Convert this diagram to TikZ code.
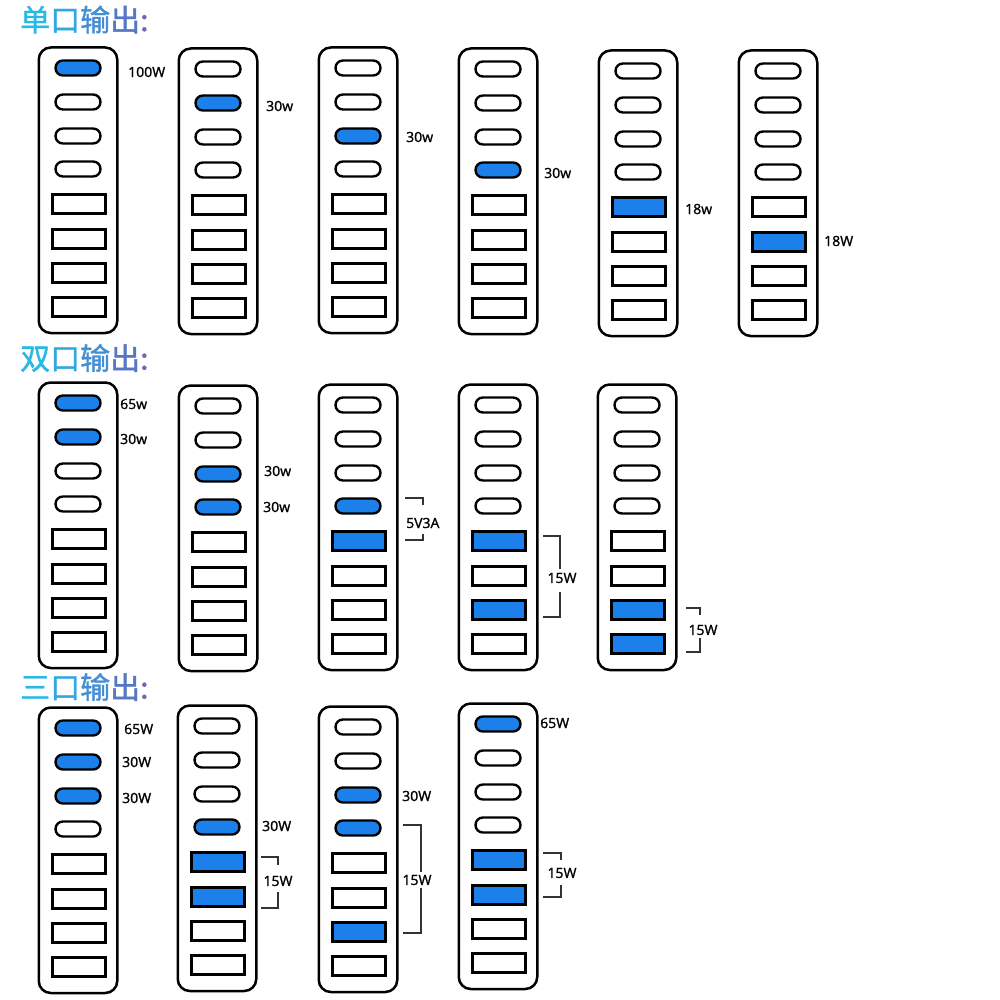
\documentclass[tikz,border=0pt]{standalone}
\usepackage{fontspec}
\newfontfamily\cjk{Noto Sans CJK SC}[FakeBold=1.2]
\newfontfamily\labfont{Open Sans}[FakeBold=1.4]
\definecolor{portblue}{RGB}{28,128,235}
\definecolor{tc1}{RGB}{40,185,230}
\definecolor{tc2}{RGB}{48,168,225}
\definecolor{tc3}{RGB}{68,142,212}
\definecolor{tc4}{RGB}{86,120,196}
\definecolor{tc5}{RGB}{110,104,180}
\tikzset{
  hub/.style={draw, line width=2.5pt, rounded corners=12pt, minimum width=78.5pt, minimum height=285.5pt, inner sep=0pt, anchor=north, fill=white},
  usbc/.style={draw, line width=2.4pt, rounded corners=7.4pt, minimum width=45pt, minimum height=15pt, inner sep=0pt, fill=white},
  usba/.style={draw, line width=3pt, minimum width=53pt, minimum height=19pt, inner sep=0pt, fill=white},
  act/.style={p#1/.style={fill=portblue}},
  lab/.style={font=\labfont\fontsize{14}{14}\selectfont, inner sep=0pt},
  ttl/.style={font=\cjk\fontsize{30}{30}\selectfont, inner sep=0pt, anchor=base west},
  brk/.style={line width=2pt, draw=black!80}
}
\newcommand{\hubstrip}[4]{%
  \begin{scope}[p1/.style={},p2/.style={},p3/.style={},p4/.style={},p5/.style={},p6/.style={},p7/.style={},p8/.style={},act/.list={#4}]
    \node[hub] (#1) at (#2,#3+1.25) {};
    \node[usbc,p1] (#1-1) at (#2,#3+23) {};
    \node[usbc,p2] (#1-2) at (#2,#3+57) {};
    \node[usbc,p3] (#1-3) at (#2,#3+91) {};
    \node[usbc,p4] (#1-4) at (#2,#3+124) {};
    \node[usba,p5] (#1-5) at (#2+0.5,#3+159) {};
    \node[usba,p6] (#1-6) at (#2+0.5,#3+194) {};
    \node[usba,p7] (#1-7) at (#2+0.5,#3+228) {};
    \node[usba,p8] (#1-8) at (#2+0.5,#3+262) {};
  \end{scope}}
\newcommand{\brk}[6]{%
  \draw[brk] (#1,#3) -- (#2,#3) -- (#2,#4);
  \draw[brk] (#2,#5) -- (#2,#6) -- (#1,#6);}
\begin{document}
\begin{tikzpicture}[x=1pt,y=-1pt]
\useasboundingbox[fill=white] (0,0) rectangle (1000,1000);
% titles
\node[ttl] (t1) at (20,31) {\textcolor{tc1}{单}\textcolor{tc2}{口}\textcolor{tc3}{输}\textcolor{tc4}{出}\textcolor{tc5}{:}};
\node[ttl] (t2) at (20,369.5) {\textcolor{tc1}{双}\textcolor{tc2}{口}\textcolor{tc3}{输}\textcolor{tc4}{出}\textcolor{tc5}{:}};
\node[ttl] (t3) at (20,698.5) {\textcolor{tc1}{三}\textcolor{tc2}{口}\textcolor{tc3}{输}\textcolor{tc4}{出}\textcolor{tc5}{:}};
% row 1
\hubstrip{a1}{78}{45}{1}
\hubstrip{a2}{218}{46}{2}
\hubstrip{a3}{358}{45}{3}
\hubstrip{a4}{498}{46}{4}
\hubstrip{a5}{638}{48}{5}
\hubstrip{a6}{778}{48}{6}
\node[lab,anchor=west] (la1) at (128,72) {100W};
\node[lab,anchor=west] (la2) at (266,106) {30w};
\node[lab,anchor=west] (la3) at (406,137) {30w};
\node[lab,anchor=west] (la4) at (544,173) {30w};
\node[lab,anchor=west] (la5) at (685,209) {18w};
\node[lab,anchor=west] (la6) at (824,241) {18W};
% row 2
\hubstrip{b1}{78}{380}{1,2}
\hubstrip{b2}{218}{383}{3,4}
\hubstrip{b3}{358}{382}{4,5}
\hubstrip{b4}{498}{382}{5,7}
\hubstrip{b5}{637}{382}{7,8}
\node[lab,anchor=west] (lb1a) at (120,404) {65w};
\node[lab,anchor=west] (lb1b) at (120,439) {30w};
\node[lab,anchor=west] (lb2a) at (264,471) {30w};
\node[lab,anchor=west] (lb2b) at (263,507) {30w};
\node[lab,anchor=west] (lb3) at (406,523) {5V3A};
\brk{405}{423}{498}{505}{534}{540}
\node[lab] (lb4) at (562,578) {15W};
\brk{543}{560}{536}{569}{592}{617}
\node[lab] (lb5) at (703,630) {15W};
\brk{686}{700}{608}{615}{638}{652}
% row 3
\hubstrip{c1}{78}{705}{1,2,3}
\hubstrip{c2}{217}{703}{4,5,6}
\hubstrip{c3}{358}{704}{3,4,7}
\hubstrip{c4}{498}{701}{1,5,6}
\node[lab,anchor=west] (lc1a) at (124,729) {65W};
\node[lab,anchor=west] (lc1b) at (122,762) {30W};
\node[lab,anchor=west] (lc1c) at (122,798) {30W};
\node[lab,anchor=west] (lc2a) at (262,826) {30W};
\node[lab] (lc2b) at (278,881) {15W};
\brk{261}{278}{857}{865}{892}{908}
\node[lab,anchor=west] (lc3a) at (402,796) {30W};
\node[lab] (lc3b) at (417,880) {15W};
\brk{403}{421}{825}{872}{888}{933}
\node[lab,anchor=west] (lc4a) at (540,723) {65W};
\node[lab] (lc4b) at (562,873) {15W};
\brk{543}{561}{853}{860}{885}{897}
\end{tikzpicture}
\end{document}
